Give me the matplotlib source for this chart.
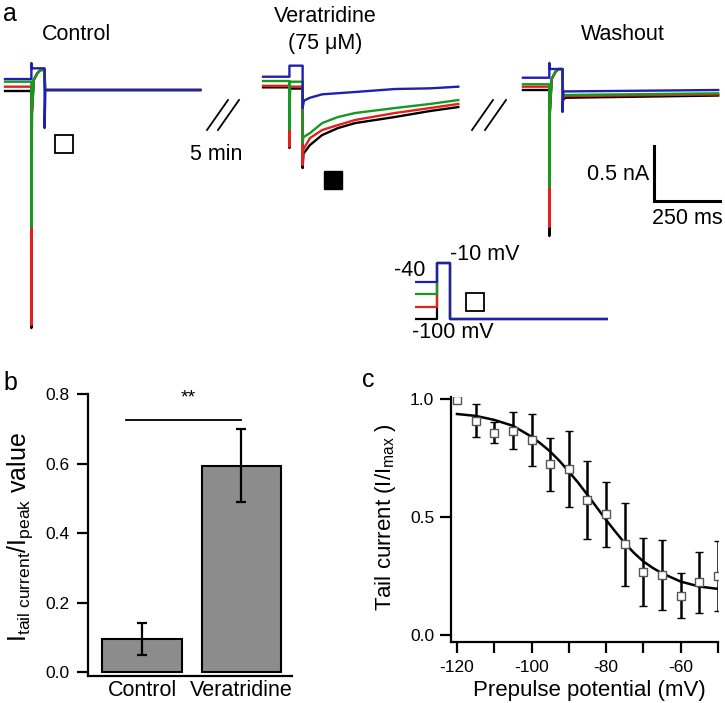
import matplotlib.pyplot as plt
import numpy as np

plt.rcParams['font.family'] = 'Liberation Sans'
plt.rcParams['mathtext.fontset'] = 'custom'
plt.rcParams['mathtext.rm'] = 'Liberation Sans'
plt.rcParams['mathtext.it'] = 'Liberation Sans:italic'

W, H = 725, 703

# ---- panel a: current traces (time in ms, current in nA rel. to black holding current)
# order: black (-100 mV), red (-80), green (-60), blue (-40 mV prepulse)
trace_colors = ['black', '#e3201c', '#159a1f', '#1f1fb0']

ctrl_t = [
    [0, 100, 100, 102, 109, 123, 135, 150, 152, 740],
    [0, 100, 100, 102, 109, 123, 135, 150, 152, 740],
    [0, 100, 100, 102, 109, 123, 135, 150, 152, 740],
    [0, 100, 100, 102, 150, 150, 153, 740],
]
ctrl_i = [
    [0.0, 0.0, -2.143, -0.2, 0.10, 0.163, 0.19, 0.19, 0.009, 0.009],
    [0.039, 0.039, -2.116, -0.2, 0.10, 0.163, 0.19, 0.19, 0.009, 0.009],
    [0.084, 0.084, -1.23, -0.2, 0.10, 0.163, 0.19, 0.19, 0.009, 0.009],
    [0.108, 0.108, 0.253, 0.205, 0.205, -0.335, 0.009, 0.009],
]

vera_t = [
    [0, 100, 100, 102, 150, 150, 153, 178, 224, 284, 349, 500, 633, 740],
    [0, 100, 100, 102, 150, 150, 153, 178, 224, 284, 349, 500, 633, 740],
    [0, 100, 100, 102, 150, 150, 153, 178, 224, 284, 349, 500, 633, 740],
    [0, 100, 100, 150, 150, 155, 178, 224, 349, 500, 633, 740],
]
vera_i = [
    [0.0, 0.0, -0.548, -0.011, -0.011, -0.730, -0.60, -0.521, -0.431, -0.368, -0.323, -0.268, -0.214, -0.178],
    [0.014, 0.014, -0.537, 0.006, 0.006, -0.703, -0.56, -0.458, -0.386, -0.341, -0.295, -0.232, -0.187, -0.150],
    [0.057, 0.057, -0.38, 0.051, 0.051, -0.503, -0.45, -0.413, -0.323, -0.268, -0.232, -0.187, -0.150, -0.115],
    [0.096, 0.096, 0.196, 0.196, -0.187, -0.12, -0.094, -0.063, -0.042, -0.015, -0.009, 0.006],
]

wash_t = [
    [0, 100, 100, 102, 109, 123, 135, 150, 152, 160, 740],
    [0, 100, 100, 102, 109, 123, 135, 150, 152, 160, 740],
    [0, 100, 100, 102, 109, 123, 135, 150, 152, 160, 740],
    [0, 100, 100, 102, 150, 150, 153, 740],
]
wash_i = [
    [0.0, 0.0, -1.32, -0.2, 0.10, 0.163, 0.189, 0.189, -0.09, -0.07, -0.05],
    [0.030, 0.030, -1.238, -0.2, 0.10, 0.163, 0.189, 0.189, -0.075, -0.055, -0.04],
    [0.052, 0.052, -0.877, -0.2, 0.10, 0.163, 0.189, 0.189, -0.06, -0.045, -0.03],
    [0.111, 0.111, 0.244, 0.19, 0.19, -0.199, -0.013, 0.0],
]

# voltage protocol (ms, mV)
proto_t = [0, 84, 84, 134, 134, 740]
prepulse_mv = [-100, -80, -60, -40]
step_mv = -10
hold_mv = -100

scale_nA = 0.5
scale_ms = 250

# ---- panel b
bar_labels = ['Control', 'Veratridine']
bar_means = [0.095, 0.593]
bar_errs = [0.046, 0.105]

# ---- panel c
prepulse = [-120, -115, -110, -105, -100, -95, -90, -85, -80, -75, -70, -65, -60, -55, -50]
tail = [0.995, 0.908, 0.857, 0.866, 0.826, 0.723, 0.702, 0.572, 0.511, 0.384, 0.266, 0.254, 0.167, 0.223, 0.25]
tail_err = [0.006, 0.07, 0.046, 0.079, 0.112, 0.112, 0.161, 0.165, 0.137, 0.177, 0.145, 0.15, 0.095, 0.13, 0.15]
fit_v = [-120, -115, -110, -105, -100, -97.5, -95, -92.5, -90, -87.5, -85, -82.5, -80,
         -77.5, -75, -72.5, -70, -67.5, -65, -60, -55, -50]
fit_i = [0.936, 0.928, 0.911, 0.886, 0.840, 0.81, 0.777, 0.737, 0.692, 0.645, 0.593, 0.54, 0.487,
         0.437, 0.389, 0.347, 0.311, 0.284, 0.261, 0.226, 0.205, 0.195]


def fx(x):
    return x / W


def fy(y):
    return 1 - y / H


fig = plt.figure(figsize=(W / 100, H / 100), dpi=100)

# overlay in pixel units for labels and small symbols
ov = fig.add_axes([0, 0, 1, 1])
ov.set_xlim(0, W)
ov.set_ylim(H, 0)
ov.axis('off')

# ---- panel a traces
ms_px, nA_px = 3.79, 0.00904
ax_a = fig.add_axes([0, 0.5, 1, 0.5])
ax_a.set_xlim(-5 * ms_px, 720 * ms_px)
ax_a.set_ylim(-(351.5 - 91) * nA_px, 91 * nA_px)
ax_a.axis('off')

sweep_x0 = [0, 978, 1963]
sweep_y0 = [0, 0.033, 0.009]
for (ts, cs), x0, y0 in zip([(ctrl_t, ctrl_i), (vera_t, vera_i), (wash_t, wash_i)], sweep_x0, sweep_y0):
    for t, c, col in zip(ts, cs, trace_colors):
        ax_a.plot(np.array(t) + x0, np.array(c) + y0, color=col, lw=1.7)

# scale bar
sb_x, sb_y = 2460, -0.997
ax_a.plot([sb_x, sb_x, sb_x + scale_ms], [sb_y + scale_nA, sb_y, sb_y], color='black', lw=2.2,
          solid_joinstyle='miter')

# protocol inset
ax_p = fig.add_axes([fx(415), fy(325), fx(608 - 415), (325 - 255) / H])
ax_p.set_xlim(0, 740)
ax_p.set_ylim(-40 - (325 - 282) / 0.617, -40 + (282 - 255) / 0.617)
ax_p.axis('off')
for v, col in zip(prepulse_mv, trace_colors):
    ax_p.plot(proto_t, [v, v, step_mv, step_mv, hold_mv, hold_mv], color=col, lw=1.6)

# text of panel a
fs = 15.5
ov.text(3, 14, 'a', fontsize=18, va='center', ha='left')
ov.text(77, 35, 'Control', fontsize=fs, ha='center', va='center')
ov.text(325, 17, 'Veratridine', fontsize=fs, ha='center', va='center')
ov.text(325, 43, '(75 μM)', fontsize=fs, ha='center', va='center')
ov.text(623, 35, 'Washout', fontsize=fs, ha='center', va='center')
ov.text(216, 155, '5 min', fontsize=fs, ha='center', va='center')
ov.text(649, 175, '0.5 nA', fontsize=fs, ha='right', va='center')
ov.text(687, 218, '250 ms', fontsize=fs, ha='center', va='center')
ov.text(425, 270, '-40', fontsize=fs, ha='right', va='center')
ov.text(450, 255, '-10 mV', fontsize=fs, ha='left', va='center')
ov.text(412, 333, '-100 mV', fontsize=fs, ha='left', va='center')

# break marks
for x1 in [207, 218, 472, 485]:
    ov.plot([x1, x1 + 21], [130, 100], color='black', lw=1.3)

# condition symbols
ov.plot(64, 144, 's', ms=12.5, mfc='white', mec='black', mew=1.3)
ov.plot(333, 180, 's', ms=13, mfc='black', mec='black')
ov.plot(475, 302, 's', ms=12.5, mfc='white', mec='black', mew=1.3)

# ---- panel b
ax_b = fig.add_axes([fx(88), fy(676), 204 / W, 282 / H])
bar_x = np.arange(len(bar_labels))
ax_b.bar(bar_x, bar_means, width=0.8, color='#8c8c8c', edgecolor='black', lw=1.5)
ax_b.errorbar(bar_x, bar_means, yerr=bar_errs, fmt='none', ecolor='black',
              elinewidth=1.6, capsize=3.5, capthick=1.6)
ax_b.set_xlim(-0.543, 1.508)
ax_b.set_ylim(-0.0115, 0.8)
ax_b.set_yticks([0, 0.2, 0.4, 0.6, 0.8])
ax_b.set_yticklabels(['0.0', '0.2', '0.4', '0.6', '0.8'])
ax_b.set_xticks(bar_x)
ax_b.set_xticklabels(bar_labels)
for s in ['top', 'right']:
    ax_b.spines[s].set_visible(False)
for s in ['left', 'bottom']:
    ax_b.spines[s].set_linewidth(1.6)
ax_b.tick_params(axis='y', direction='out', length=8, width=1.6, labelsize=12.5, pad=5)
ax_b.tick_params(axis='x', length=0, labelsize=15.5, pad=3)
ax_b.set_ylabel(r'I$_{\mathrm{tail\ current}}$/I$_{\mathrm{peak}}$ value', fontsize=18)
ax_b.yaxis.set_label_coords(-0.26, 0.493)
ax_b.plot([-0.16, 0.995], [0.725, 0.725], color='black', lw=1.3)
ax_b.text(0.47, 0.79, '**', fontsize=14, ha='center', va='center')
ov.text(3, 383, 'b', fontsize=18, va='center', ha='left')

# ---- panel c
ax_c = fig.add_axes([fx(451), fy(642), 267 / W, 245 / H])
ax_c.plot(fit_v, fit_i, color='black', lw=1.8)
ax_c.errorbar(prepulse, tail, yerr=tail_err, fmt='s', mfc='white', mec='#555555', mew=1.0, ms=5.5,
              ecolor='black', elinewidth=1.8, capsize=3, capthick=1.8)
ax_c.set_xlim(-121.6, -50)
ax_c.set_ylim(-0.03, 1.008)
ax_c.set_xticks(np.arange(-120, -49, 10))
ax_c.set_xticklabels(['-120', '', '-100', '', '-80', '', '-60', ''])
ax_c.set_yticks([0, 0.5, 1.0])
ax_c.set_yticklabels(['0.0', '0.5', '1.0'])
for s in ['top', 'right']:
    ax_c.spines[s].set_visible(False)
for s in ['left', 'bottom']:
    ax_c.spines[s].set_linewidth(1.6)
ax_c.tick_params(direction='out', length=8, width=1.6, labelsize=12.5, pad=4)
ax_c.tick_params(axis='x', pad=5)
ax_c.set_xlabel('Prepulse potential (mV)', fontsize=16)
ax_c.xaxis.set_label_coords(0.52, -0.155)
ax_c.set_ylabel(r'Tail current (I/I$_{\mathrm{max}}$ )', fontsize=16)
ax_c.yaxis.set_label_coords(-0.2, 0.51)
ov.text(362, 380, 'c', fontsize=18, va='center', ha='left')

fig.savefig('out.png', dpi=100)
